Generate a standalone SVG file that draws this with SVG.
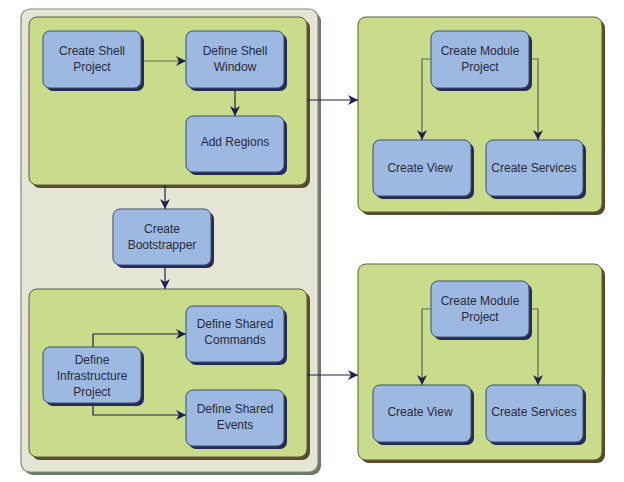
<svg xmlns="http://www.w3.org/2000/svg" width="624" height="482" viewBox="0 0 624 482">
<defs>
<style>
.outer{fill:#e5e5d6;stroke:#7d8a7d;stroke-width:1.2}
.outersh{fill:#6b7a6b}
.panel{fill:#c9dc8c;stroke:#5c5a3c;stroke-width:1}
.panelsh{fill:#5a4a2a}
.node{fill:#9db9e1;stroke:#3c4c6c;stroke-width:1}
.nodesh{fill:#262a58}
text{font-family:"Liberation Sans",Arial,sans-serif;font-size:12px;fill:#2a2a3a;text-anchor:middle}
.nv{fill:none;stroke:#1e1e50;stroke-width:1.2}
.gr{fill:none;stroke:#5a6a5a;stroke-width:1.2}
</style>
<marker id="ah" markerUnits="userSpaceOnUse" markerWidth="10" markerHeight="10" viewBox="0 0 10 10" refX="10" refY="5" orient="auto">
<path d="M0,0 L10,5 L0,10 L3,5 z" fill="#1e1e50"/>
</marker>
</defs>

<g id="shell-container">
<rect class="outersh" x="24" y="12" width="297" height="463" rx="9"/>
<rect class="outer" x="21" y="9" width="297" height="463" rx="9"/>
</g>

<g id="panel-shell">
<rect class="panelsh" x="32" y="20" width="278" height="168" rx="8"/>
<rect class="panel" x="29" y="17" width="278" height="168" rx="8"/>
</g>
<g id="panel-infra">
<rect class="panelsh" x="32" y="292" width="278" height="168" rx="8"/>
<rect class="panel" x="29" y="289" width="278" height="168" rx="8"/>
</g>
<g id="panel-module1">
<rect class="panelsh" x="361" y="20" width="244" height="195" rx="8"/>
<rect class="panel" x="358" y="17" width="244" height="195" rx="8"/>
</g>
<g id="panel-module2">
<rect class="panelsh" x="361" y="267" width="244" height="196" rx="8"/>
<rect class="panel" x="358" y="264" width="244" height="196" rx="8"/>
</g>

<g id="connectors">
<path class="gr" d="M141,61 H186" marker-end="url(#ah)"/>
<path class="nv" d="M235,88 V116" marker-end="url(#ah)"/>
<path class="nv" d="M165,185 V209" marker-end="url(#ah)"/>
<path class="nv" d="M165,265 V289" marker-end="url(#ah)"/>
<path class="nv" d="M93,347 V334 H186" marker-end="url(#ah)"/>
<path class="nv" d="M93,403 V415 H186" marker-end="url(#ah)"/>
<path class="nv" d="M307,100 H358" marker-end="url(#ah)"/>
<path class="nv" d="M307,375 H358" marker-end="url(#ah)"/>
<path class="gr" d="M431,59 H422 V140" marker-end="url(#ah)"/>
<path class="gr" d="M529,59 H538 V140" marker-end="url(#ah)"/>
<path class="gr" d="M431,309 H422 V385" marker-end="url(#ah)"/>
<path class="gr" d="M529,309 H538 V385" marker-end="url(#ah)"/>
</g>

<g id="create-shell-project">
<rect class="nodesh" x="46" y="34" width="98" height="57" rx="7"/>
<rect class="node" x="43" y="31" width="98" height="57" rx="7"/>
<text x="92" y="55">Create Shell</text>
<text x="92" y="71">Project</text>
</g>
<g id="define-shell-window">
<rect class="nodesh" x="189" y="34" width="98" height="57" rx="7"/>
<rect class="node" x="186" y="31" width="98" height="57" rx="7"/>
<text x="235" y="55">Define Shell</text>
<text x="235" y="71">Window</text>
</g>
<g id="add-regions">
<rect class="nodesh" x="189" y="119" width="98" height="56" rx="7"/>
<rect class="node" x="186" y="116" width="98" height="56" rx="7"/>
<text x="235" y="146">Add Regions</text>
</g>
<g id="create-bootstrapper">
<rect class="nodesh" x="116" y="212" width="98" height="56" rx="7"/>
<rect class="node" x="113" y="209" width="98" height="56" rx="7"/>
<text x="162" y="233">Create</text>
<text x="162" y="249">Bootstrapper</text>
</g>
<g id="define-shared-commands">
<rect class="nodesh" x="189" y="309" width="98" height="56" rx="7"/>
<rect class="node" x="186" y="306" width="98" height="56" rx="7"/>
<text x="235" y="328">Define Shared</text>
<text x="235" y="344">Commands</text>
</g>
<g id="define-infrastructure-project">
<rect class="nodesh" x="46" y="350" width="98" height="56" rx="7"/>
<rect class="node" x="43" y="347" width="98" height="56" rx="7"/>
<text x="92" y="364">Define</text>
<text x="92" y="380">Infrastructure</text>
<text x="92" y="396">Project</text>
</g>
<g id="define-shared-events">
<rect class="nodesh" x="189" y="393" width="98" height="56" rx="7"/>
<rect class="node" x="186" y="390" width="98" height="56" rx="7"/>
<text x="235" y="413">Define Shared</text>
<text x="235" y="429">Events</text>
</g>

<g id="create-module-project-1">
<rect class="nodesh" x="434" y="34" width="98" height="57" rx="7"/>
<rect class="node" x="431" y="31" width="98" height="57" rx="7"/>
<text x="480" y="55">Create Module</text>
<text x="480" y="71">Project</text>
</g>
<g id="create-view-1">
<rect class="nodesh" x="376" y="143" width="98" height="56" rx="7"/>
<rect class="node" x="373" y="140" width="98" height="56" rx="7"/>
<text x="420" y="172">Create View</text>
</g>
<g id="create-services-1">
<rect class="nodesh" x="489" y="143" width="97" height="56" rx="7"/>
<rect class="node" x="486" y="140" width="97" height="56" rx="7"/>
<text x="534" y="172">Create Services</text>
</g>

<g id="create-module-project-2">
<rect class="nodesh" x="434" y="284" width="98" height="56" rx="7"/>
<rect class="node" x="431" y="281" width="98" height="56" rx="7"/>
<text x="480" y="305">Create Module</text>
<text x="480" y="321">Project</text>
</g>
<g id="create-view-2">
<rect class="nodesh" x="376" y="388" width="98" height="57" rx="7"/>
<rect class="node" x="373" y="385" width="98" height="57" rx="7"/>
<text x="420" y="416">Create View</text>
</g>
<g id="create-services-2">
<rect class="nodesh" x="489" y="388" width="97" height="57" rx="7"/>
<rect class="node" x="486" y="385" width="97" height="57" rx="7"/>
<text x="534" y="416">Create Services</text>
</g>
</svg>
